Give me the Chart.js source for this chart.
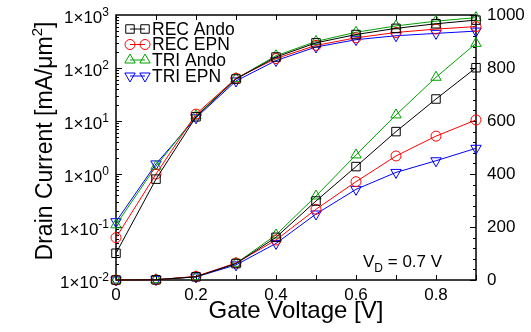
<!DOCTYPE html>
<html>
<head>
<meta charset="utf-8">
<script src="https://cdn.jsdelivr.net/npm/chart.js@4.4.1/dist/chart.umd.min.js"></script>
<style>
html, body { margin: 0; padding: 0; background: #fff; }
canvas { display: block; }
</style>
</head>
<body>
<canvas id="ivChart" width="531" height="332"></canvas>
<script>
// drain current vs gate voltage, V_D = 0.7 V
const gateVoltage = [0, 0.1, 0.2, 0.3, 0.4, 0.5, 0.6, 0.7, 0.8, 0.9]
const recAndo = [0.032, 0.8, 12, 62, 161, 298, 428, 560, 683, 801]
const recEpn = [0.063, 1.0, 13.5, 64, 151, 267, 371, 468, 543, 604]
const triAndo = [0.11, 1.4, 12.5, 63, 170, 317, 472, 623, 765, 893]
const triEpn = [0.126, 1.55, 11.5, 57, 138, 249, 342, 406, 450, 497]
const seriesNames = ['REC Ando', 'REC EPN', 'TRI Ando', 'TRI EPN']

const xTicks = [0, 0.2, 0.4, 0.6, 0.8]
const xMinorTicks = [0, 0.1, 0.2, 0.3, 0.4, 0.5, 0.6, 0.7, 0.8, 0.9]
const linTicks = [0, 200, 400, 600, 800, 1000]
const logExponents = [-2, -1, 0, 1, 2, 3]

const FONT = '"Liberation Sans", Arial, sans-serif'
Chart.defaults.font.family = FONT
Chart.defaults.color = '#000'

const marks = [
    { color: '#000000', style: 'rect', rotation: 0, radius: 6 },
    { color: '#ff0000', style: 'circle', rotation: 0, radius: 5 },
    { color: '#00a000', style: 'triangle', rotation: 0, radius: 6 },
    { color: '#0000ff', style: 'triangle', rotation: 180, radius: 6 }
]

// each series is drawn twice: once on the log axis, once on the linear axis
const series = [recAndo, recEpn, triAndo, triEpn]
const datasets = []
series.forEach((vals, i) => {
    ['yLog', 'yLin'].forEach(axis => {
        datasets.push({
            label: seriesNames[i],
            data: gateVoltage.map((v, j) => ({ x: v, y: vals[j] })),
            yAxisID: axis,
            borderColor: marks[i].color,
            backgroundColor: 'rgba(0,0,0,0)',
            borderWidth: 1,
            pointStyle: marks[i].style,
            pointRotation: marks[i].rotation,
            pointRadius: marks[i].radius,
            pointBorderWidth: 1,
            pointBorderColor: marks[i].color,
            pointBackgroundColor: 'rgba(0,0,0,0)',
            tension: 0,
            clip: false
        })
    })
})

function drawMarker(ctx, m, x, y) {
    ctx.strokeStyle = m.color
    ctx.fillStyle = 'rgba(0,0,0,0)'
    ctx.lineWidth = 1
    Chart.helpers.drawPoint(ctx, { pointStyle: m.style, rotation: m.rotation, radius: m.radius, borderWidth: 1 }, x, y)
}

const framePlugin = {
    id: 'frame',
    beforeDatasetsDraw(chart) {
        const ctx = chart.ctx
        const a = chart.chartArea
        const xs = chart.scales.x, yl = chart.scales.yLog, yr = chart.scales.yLin
        ctx.save()
        ctx.strokeStyle = '#000'
        ctx.lineWidth = 1
        ctx.beginPath()
        // x ticks, bottom and top, pointing in
        xMinorTicks.forEach(v => {
            const px = Math.round(xs.getPixelForValue(v)) + 0.5
            ctx.moveTo(px, a.bottom); ctx.lineTo(px, a.bottom - 5)
            ctx.moveTo(px, a.top); ctx.lineTo(px, a.top + 5)
        })
        // log ticks on the left
        for (let e = -2; e < 3; e++) {
            for (let m = 1; m < 10; m++) {
                const py = Math.round(yl.getPixelForValue(m * Math.pow(10, e))) + 0.5
                ctx.moveTo(a.left, py); ctx.lineTo(a.left + (m === 1 ? 6 : 3), py)
            }
        }
        // linear ticks on the right
        for (let v = 0; v <= 1000; v += 40) {
            const py = Math.round(yr.getPixelForValue(v)) + 0.5
            ctx.moveTo(a.right, py); ctx.lineTo(a.right - (v % 200 === 0 ? 6 : 3), py)
        }
        ctx.stroke()
        ctx.lineWidth = 1.5
        ctx.strokeRect(a.left, a.top, a.right - a.left, a.bottom - a.top)
        ctx.restore()
    },
    afterDraw(chart) {
        const ctx = chart.ctx
        const a = chart.chartArea
        const yl = chart.scales.yLog
        ctx.save()
        ctx.fillStyle = '#000'
        ctx.textBaseline = 'alphabetic'
        ctx.textAlign = 'left'

        // left tick labels 1x10^n
        logExponents.forEach(e => {
            const y = yl.getPixelForValue(Math.pow(10, e))
            const exp = String(e)
            ctx.font = '12px ' + FONT
            const we = ctx.measureText(exp).width
            ctx.font = '17px ' + FONT
            const wb = ctx.measureText('1×10').width
            const right = 109
            ctx.fillText('1×10', right - we - wb, y + 8)
            ctx.font = '12px ' + FONT
            ctx.fillText(exp, right - we, y + 1)
        })

        // y title
        ctx.save()
        ctx.translate(52, 141)
        ctx.rotate(-Math.PI / 2)
        const t1 = 'Drain Current [mA/μm', t2 = '2', t3 = ']'
        ctx.font = '23px ' + FONT
        const w1 = ctx.measureText(t1).width, w3 = ctx.measureText(t3).width
        ctx.font = '15px ' + FONT
        const w2 = ctx.measureText(t2).width
        let sx = -(w1 + w2 + w3) / 2
        ctx.font = '23px ' + FONT
        ctx.fillText(t1, sx, 0)
        ctx.font = '15px ' + FONT
        ctx.fillText(t2, sx + w1, -10)
        ctx.font = '23px ' + FONT
        ctx.fillText(t3, sx + w1 + w2, 0)
        ctx.restore()

        // x title
        ctx.font = '24px ' + FONT
        ctx.textAlign = 'center'
        ctx.fillText('Gate Voltage [V]', (a.left + a.right) / 2, 318)

        // V_D note
        ctx.textAlign = 'left'
        ctx.font = '17px ' + FONT
        let nx = 363
        ctx.fillText('V', nx, 267)
        nx += ctx.measureText('V').width
        ctx.font = '12px ' + FONT
        ctx.fillText('D', nx, 272)
        nx += ctx.measureText('D').width
        ctx.font = '17px ' + FONT
        ctx.fillText(' = 0.7 V', nx, 267)

        // legend
        const rows = [29, 44.5, 60, 76]
        ctx.textBaseline = 'middle'
        seriesNames.forEach((name, i) => {
            const y = rows[i]
            ctx.strokeStyle = marks[i].color
            ctx.lineWidth = 1
            ctx.beginPath()
            ctx.moveTo(130, y); ctx.lineTo(145, y)
            ctx.stroke()
            drawMarker(ctx, marks[i], 130, y)
            drawMarker(ctx, marks[i], 145, y)
            ctx.fillStyle = '#000'
            ctx.font = '17.5px ' + FONT
            ctx.fillText(name, 152, y + 1)
        })
        ctx.restore()
    }
}

new Chart(document.getElementById('ivChart').getContext('2d'), {
    type: 'line',
    data: { datasets: datasets },
    options: {
        responsive: false,
        animation: false,
        devicePixelRatio: 1,
        layout: { padding: { top: 15, left: 0, right: 0, bottom: 0 } },
        plugins: { legend: { display: false }, tooltip: { enabled: false } },
        scales: {
            x: {
                type: 'linear',
                min: 0,
                max: 0.9,
                afterBuildTicks: s => { s.ticks = xTicks.map(v => ({ value: v })) },
                afterFit: s => { s.height = 52 },
                grid: { display: false },
                border: { display: false },
                ticks: {
                    font: { size: 17 },
                    padding: -3,
                    maxRotation: 0,
                    callback: v => String(v)
                }
            },
            yLog: {
                type: 'logarithmic',
                position: 'left',
                min: 0.01,
                max: 1000,
                afterBuildTicks: s => { s.ticks = logExponents.map(e => ({ value: Math.pow(10, e) })) },
                afterFit: s => { s.width = 116 },
                grid: { display: false },
                border: { display: false },
                ticks: { display: false }
            },
            yLin: {
                type: 'linear',
                position: 'right',
                min: 0,
                max: 1000,
                afterBuildTicks: s => { s.ticks = linTicks.map(v => ({ value: v })) },
                afterFit: s => { s.width = 55 },
                grid: { display: false },
                border: { display: false },
                ticks: { font: { size: 17 }, padding: 3, callback: v => String(v) }
            }
        }
    },
    plugins: [framePlugin]
})
</script>
</body>
</html>
